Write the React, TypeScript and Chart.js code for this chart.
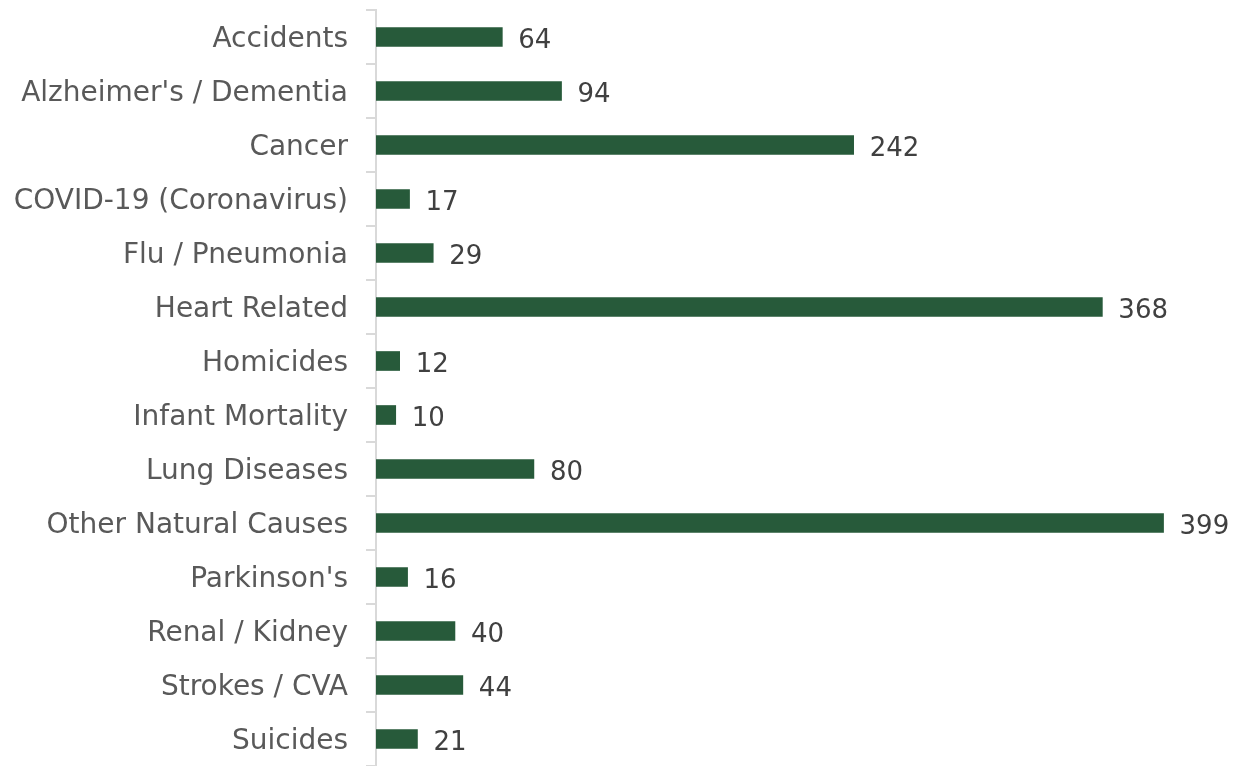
import React, { useEffect, useRef } from "react";
import { Chart, registerables } from "chart.js";

Chart.register(...registerables);

const categories = [
  "Accidents",
  "Alzheimer's / Dementia",
  "Cancer",
  "COVID-19 (Coronavirus)",
  "Flu / Pneumonia",
  "Heart Related",
  "Homicides",
  "Infant Mortality",
  "Lung Diseases",
  "Other Natural Causes",
  "Parkinson's",
  "Renal / Kidney",
  "Strokes / CVA",
  "Suicides",
];
const deaths = [64, 94, 242, 17, 29, 368, 12, 10, 80, 399, 16, 40, 44, 21];

const FONT = "'DejaVu Sans', sans-serif";

const valueLabels = {
  id: "valueLabels",
  afterDatasetsDraw(chart: any) {
    const ctx = chart.ctx;
    const meta = chart.getDatasetMeta(0);
    ctx.save();
    ctx.font = `26px ${FONT}`;
    ctx.fillStyle = "#404040";
    ctx.textAlign = "left";
    ctx.textBaseline = "middle";
    meta.data.forEach((bar: any, i: number) => {
      ctx.fillText(String(deaths[i]), bar.x + 16, bar.y + 4);
    });
    ctx.restore();
  },
};

export default function App() {
  const ref = useRef<HTMLCanvasElement>(null);
  useEffect(() => {
    if (!ref.current) return;
    const chart = new Chart(ref.current, {
      type: "bar",
      data: {
        labels: categories,
        datasets: [
          {
            data: deaths,
            backgroundColor: "#275A3A",
            barThickness: 19,
          },
        ],
      },
      options: {
        indexAxis: "y",
        animation: false,
        responsive: false,
        maintainAspectRatio: false,
        layout: { padding: { top: 10, right: 36, bottom: 0, left: 0 } },
        plugins: { legend: { display: false }, tooltip: { enabled: false } },
        scales: {
          x: { display: false, min: 0, max: 420 },
          y: {
            afterFit: (scale: any) => {
              scale.width = 376;
              scale.paddingTop = 0;
              scale.paddingBottom = 0;
            },
            border: { display: true, color: "#d9d9d9", width: 2 },
            grid: {
              drawOnChartArea: false,
              drawTicks: true,
              tickLength: 10,
              color: "#d9d9d9",
              lineWidth: 2,
              offset: true,
            },
            ticks: {
              padding: 18,
              labelOffset: 3,
              color: "#595959",
              font: { family: FONT, size: 28 },
            },
          },
        },
      },
      plugins: [valueLabels],
    });
    return () => chart.destroy();
  }, []);
  return (
    <div style={{ position: "fixed", left: 0, top: 0, width: 1241, height: 766, background: "#fff" }}>
      <canvas ref={ref} width={1241} height={766} />
    </div>
  );
}
